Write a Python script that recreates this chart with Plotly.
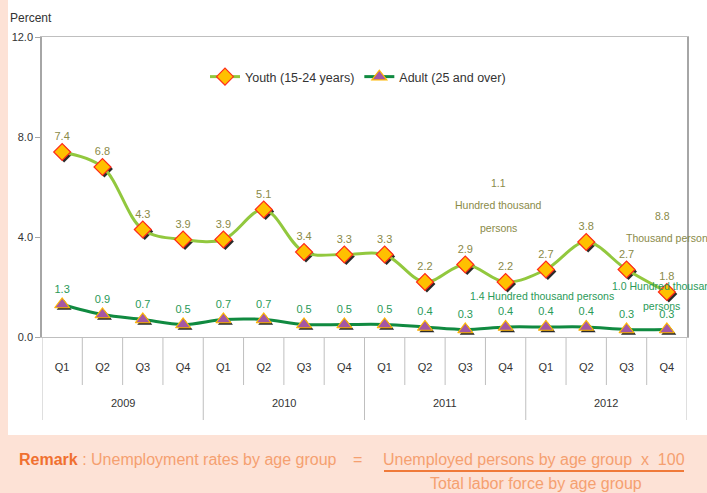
import plotly.graph_objects as go

years = ["2009", "2010", "2011", "2012"]
quarters = ["Q1", "Q2", "Q3", "Q4"]
youth = [7.4, 6.8, 4.3, 3.9, 3.9, 5.1, 3.4, 3.3, 3.3, 2.2, 2.9, 2.2, 2.7, 3.8, 2.7, 1.8]
adult = [1.3, 0.9, 0.7, 0.5, 0.7, 0.7, 0.5, 0.5, 0.5, 0.4, 0.3, 0.4, 0.4, 0.4, 0.3, 0.3]
y_ticks = [0, 4, 8, 12]

W, H = 707, 493
L, R, T, B = 42, 20, 37, 156
PW, PH = W - L - R, H - T - B

def px(x):
    return (x - L) / PW

def py(y):
    return (H - B - y) / PH

labels = [q for _ in years for q in quarters]
idx = list(range(len(labels)))
n = len(labels)

FONT = "Liberation Sans"
OLIVE = "#8A8A48"
GREEN = "#2A9A58"
REM = "#F5A070"

# shadow offsets (in axis units, ~2px)
dx, dy = 2 / (PW / n), 2 / (PH / 12)

fig = go.Figure()
for vals in (youth, adult):
    sym = "diamond" if vals is youth else "triangle-up"
    fig.add_trace(go.Scatter(
        x=[i + dx for i in idx], y=[v - dy for v in vals], mode="markers", showlegend=False,
        hoverinfo="skip", marker=dict(symbol=sym, size=13, color="#2A2A2A"),
    ))
fig.add_trace(go.Scatter(
    x=idx, y=youth, name="Youth (15-24 years)", mode="lines+markers+text",
    line=dict(color="#92C83E", width=3, shape="spline", smoothing=1),
    marker=dict(symbol="diamond", size=13, color="#FFC000", line=dict(color="#FF2A1A", width=1.2)),
    text=[f"{v:.1f}" for v in youth], textposition="top center",
    textfont=dict(color=OLIVE, size=11, family=FONT),
))
fig.add_trace(go.Scatter(
    x=idx, y=adult, name="Adult (25 and over)", mode="lines+markers+text",
    line=dict(color="#108A40", width=3, shape="spline", smoothing=1),
    marker=dict(symbol="triangle-up", size=13, color="#A457A4", line=dict(color="#FFB800", width=1.2)),
    text=[f"{v:.1f}" for v in adult], textposition="top center",
    textfont=dict(color=GREEN, size=11, family=FONT),
))

shapes = []
shapes.append(dict(type="rect", xref="paper", yref="paper", x0=px(8), x1=px(707), y0=py(435), y1=py(0),
                   fillcolor="white", line=dict(width=0), layer="below"))
for k in range(n + 1):
    b = k - 0.5
    is_year = (k % len(quarters) == 0)
    shapes.append(dict(type="line", xref="x", yref="paper", x0=b, x1=b, y0=0,
                       y1=py(420) if is_year else py(385),
                       line=dict(color="#BFBFBF", width=1)))
shapes.append(dict(type="line", xref="paper", yref="paper", x0=px(384), x1=px(684), y0=py(471), y1=py(471),
                   line=dict(color="#F07A3A", width=2)))

ann = []
for gi, yr in enumerate(years):
    c = gi * len(quarters) + (len(quarters) - 1) / 2
    ann.append(dict(x=c, y=py(403), xref="x", yref="paper", xanchor="center", yanchor="middle",
                    text=yr, showarrow=False, font=dict(size=11, color="#333333", family=FONT)))

def note(x, y, text, color, xanchor="center", size=10.5):
    ann.append(dict(x=px(x), y=py(y), xref="paper", yref="paper", xanchor=xanchor, yanchor="middle",
                    text=text, showarrow=False, font=dict(size=size, color=color, family=FONT)))

note(8, 18, "Percent", "#333333", "left", 12)
note(499, 183, "1.1", OLIVE)
note(499, 205, "Hundred thousand", OLIVE)
note(499, 228, "persons", OLIVE)
note(662, 216, "8.8", OLIVE)
note(624, 238, "Thousand persons", OLIVE, "left")
note(542, 296, "1.4 Hundred thousand persons", GREEN)
note(610, 286, "1.0 Hundred thousand", GREEN, "left")
note(661, 306, "persons", GREEN)

note(17, 459, "<b><span style='color:#F07030'>Remark</span></b> : Unemployment rates by age group", REM, "left", 16)
note(357, 459, "=", REM, "center", 16)
note(534, 459, "Unemployed persons by age group  x  100", REM, "center", 16)
note(536, 483, "Total labor force by age group", REM, "center", 16)

fig.update_layout(
    width=W, height=H, margin=dict(l=L, r=R, t=T, b=B),
    paper_bgcolor="#FDE2D6", plot_bgcolor="white",
    font=dict(family=FONT, size=11, color="#333333"),
    showlegend=True,
    legend=dict(orientation="h", x=px(205), y=py(77), xanchor="left", yanchor="middle",
                bgcolor="rgba(0,0,0,0)", font=dict(size=12.5, family=FONT)),
    shapes=shapes, annotations=ann,
)
fig.update_xaxes(range=[-0.5, n - 0.5], tickvals=idx, ticktext=labels, ticks="outside", ticklen=20,
                 tickcolor="rgba(0,0,0,0)", showgrid=False, zeroline=False,
                 showline=True, linecolor="#BFBFBF", linewidth=1, mirror=True,
                 tickfont=dict(size=11, color="#333333"))
fig.update_yaxes(range=[0, 12], tickvals=y_ticks, tickformat=".1f", ticks="outside", ticklen=5,
                 tickcolor="#A6A6A6", showgrid=False, zeroline=False,
                 showline=True, linecolor="#A6A6A6", linewidth=1.5, mirror=True,
                 tickfont=dict(size=11, color="#333333"))

fig.write_html("out.html", config={"displayModeBar": False},
               post_script="document.body.style.margin='0';")
